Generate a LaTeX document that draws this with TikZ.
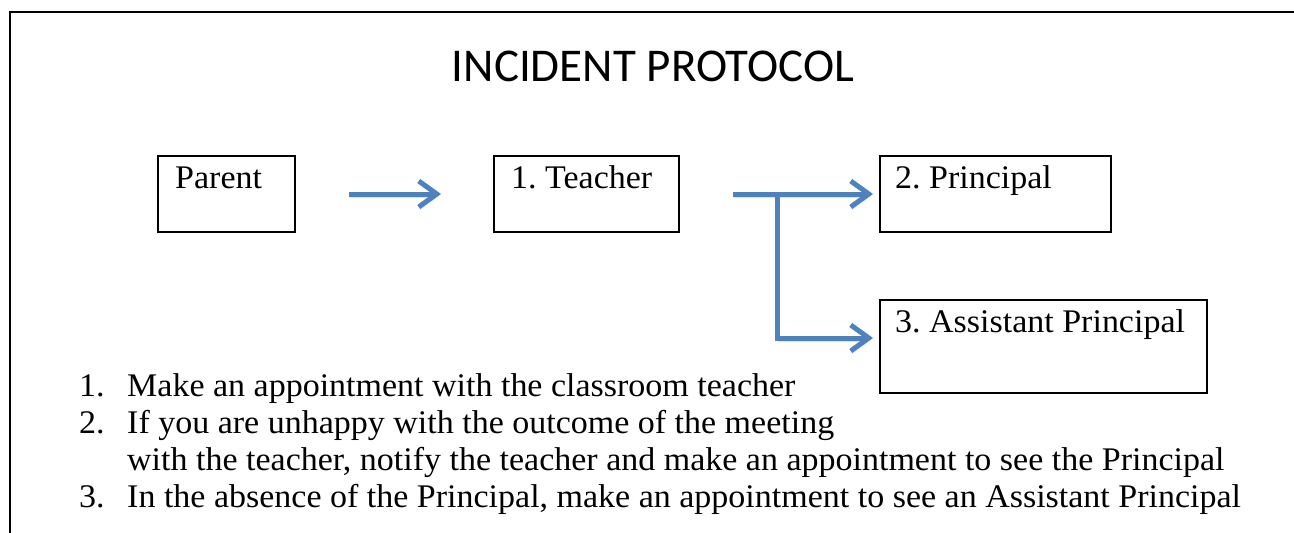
\documentclass[tikz,border=0pt]{standalone}
\usepackage{fontspec}
\setmainfont[FakeStretch=1.03]{Liberation Serif}
\newfontfamily\titlefont{Carlito}
\usetikzlibrary{arrows.meta}
\definecolor{ablue}{RGB}{79,129,189}
\frenchspacing
\begin{document}
\begin{tikzpicture}[x=1pt,y=-1pt,
  boxnode/.style={draw, line width=2pt, anchor=north west, inner sep=0pt},
  lbl/.style={anchor=base west, inner sep=0pt, font=\fontsize{33}{39}\selectfont},
  arr/.style={draw=ablue, line width=5pt, -{Straight Barb[length=18pt,width=26pt]},
    preaction={draw=black, opacity=0.12, transform canvas={shift={(1pt,-3pt)}}}},
  ]
\useasboundingbox (0,0) rectangle (1294,533);
\fill[white] (0,0) rectangle (1294,533);
% frame
\draw[line width=2pt] (10,540) -- (10,12) -- (1300,12);
% title
\node[font=\titlefont\fontsize{47}{56}\selectfont, anchor=base, inner sep=0pt] (title) at (653,81) {INCIDENT PROTOCOL};
% boxes
\node[boxnode, minimum width=137pt, minimum height=76pt] (parent) at (157,155) {};
\node[boxnode, minimum width=185pt, minimum height=76pt] (teacher) at (493,155) {};
\node[boxnode, minimum width=231pt, minimum height=76pt] (principal) at (879,155) {};
\node[boxnode, minimum width=327pt, minimum height=93pt] (ap) at (879,299) {};
% box texts
\node[lbl] (parentt) at (175,188) {Parent};
\node[lbl] (teachert) at (511,188) {1. Teacher};
\node[lbl] (principalt) at (895,188) {2. Principal};
\node[lbl] (apt) at (895,332) {3. Assistant Principal};
% arrows
\draw[arr] ([xshift=53pt]parent.east) -- ([xshift=-52pt]teacher.west);
\draw[arr] ([xshift=53pt]teacher.east) -- ([xshift=-6pt]principal.west);
\coordinate (fork) at (777,193);
\coordinate (apin) at ([xshift=-6pt,yshift=8.5pt]ap.west);
\draw[arr] (fork) |- (apin);
% list
\node[lbl] (n1) at (79,396) {1.};
\node[lbl] (t1) at (127,396) {Make an appointment with the classroom teacher};
\node[lbl] (n2) at (79,433) {2.};
\node[lbl] (t2) at (127,433) {If you are unhappy with the outcome of the meeting};
\node[lbl] (t2b) at (127,470) {with the teacher, notify the teacher and make an appointment to see the Principal};
\node[lbl] (n3) at (79,507) {3.};
\node[lbl] (t3) at (127,507) {In the absence of the Principal, make an appointment to see an Assistant Principal};
\end{tikzpicture}
\end{document}
